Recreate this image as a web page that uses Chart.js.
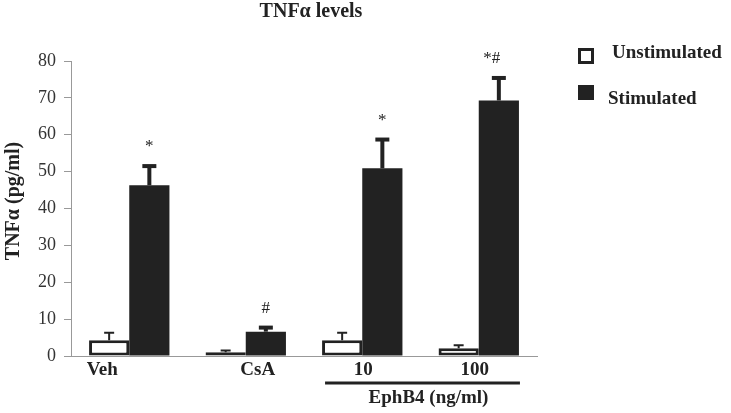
<!DOCTYPE html>
<html>
<head>
<meta charset="utf-8">
<script src="https://cdn.jsdelivr.net/npm/chart.js@4.4.0/dist/chart.umd.min.js"></script>
<style>
  body { margin: 0; background: #fff; }
</style>
</head>
<body>
<canvas id="tnf" width="731" height="413"></canvas>
<script>
// data
var groups = ['Veh', 'CsA', '10', '100'];
var unstimulated = [4.3, 1.0, 4.3, 2.1];
var unstimErr = [2.0, 0.5, 2.0, 0.8];
var stimulated = [46.3, 6.6, 50.9, 69.3];
var stimErr = [5.2, 1.1, 7.8, 6.1];
var marks = ['*', '#', '*', '*#'];
var yTicks = [0, 10, 20, 30, 40, 50, 60, 70, 80];

var serif = '"Liberation Serif", "Times New Roman", serif';
var ink = '#222';
// the original labels sit a little off their group centres
var labelShift = [-27, 12, 1, -4];

// error bars, significance marks, labels, legend and the EphB4 bracket
var extras = {
  id: 'extras',
  afterDatasetsDraw: function(chart) {
    var ctx = chart.ctx;
    var y = chart.scales.y, x = chart.scales.x;
    var m0 = chart.getDatasetMeta(0), m1 = chart.getDatasetMeta(1);
    ctx.save();
    ctx.strokeStyle = ink;
    ctx.fillStyle = ink;

    for (var i = 0; i < groups.length; i++) {
      // unstimulated error bar (thin)
      var b = m0.data[i];
      var top = y.getPixelForValue(unstimulated[i]);
      var cap = y.getPixelForValue(unstimulated[i] + unstimErr[i]);
      ctx.lineWidth = 2;
      ctx.beginPath();
      ctx.moveTo(b.x, top); ctx.lineTo(b.x, cap);
      ctx.moveTo(b.x - 5, cap); ctx.lineTo(b.x + 5, cap);
      ctx.stroke();

      // stimulated error bar (thick)
      b = m1.data[i];
      top = y.getPixelForValue(stimulated[i]);
      cap = y.getPixelForValue(stimulated[i] + stimErr[i]);
      ctx.lineWidth = 4;
      ctx.beginPath();
      ctx.moveTo(b.x, top); ctx.lineTo(b.x, cap);
      ctx.stroke();
      ctx.fillRect(b.x - 7, cap - 2, 14, 4);

      ctx.font = '17px ' + serif;
      ctx.textAlign = 'center';
      ctx.textBaseline = 'alphabetic';
      var off = marks[i].length > 1 ? -7 : 0;
      ctx.fillText(marks[i], b.x + off, cap - 15);

      // category label
      ctx.font = 'bold 19px ' + serif;
      ctx.textBaseline = 'middle';
      ctx.fillText(groups[i], x.getPixelForValue(i) + labelShift[i], 370);
    }

    // title
    ctx.font = 'bold 20px ' + serif;
    ctx.textAlign = 'center';
    ctx.textBaseline = 'middle';
    ctx.fillText('TNF\u03b1 levels', 311, 12);

    // y title
    ctx.save();
    ctx.translate(14, 201);
    ctx.rotate(-Math.PI / 2);
    ctx.fillText('TNF\u03b1 (pg/ml)', 0, 0);
    ctx.restore();

    // bracket under the EphB4 doses
    ctx.font = 'bold 19px ' + serif;
    var left = m0.data[2].x - m0.data[2].width / 2 + 3;
    var right = m1.data[3].x + m1.data[3].width / 2 + 1;
    ctx.lineWidth = 3;
    ctx.beginPath();
    ctx.moveTo(left, 383); ctx.lineTo(right, 383);
    ctx.stroke();
    ctx.fillText('EphB4 (ng/ml)', (left + right) / 2 + 6, 398);

    // legend
    ctx.lineWidth = 3;
    ctx.strokeRect(579.5, 49.5, 13, 13);
    ctx.fillRect(578, 85, 16, 15);
    ctx.textAlign = 'left';
    ctx.fillText('Unstimulated', 612, 53);
    ctx.fillText('Stimulated', 608, 99);
    ctx.restore();
  }
};

new Chart(document.getElementById('tnf').getContext('2d'), {
  type: 'bar',
  data: {
    labels: groups,
    datasets: [{
      label: 'Unstimulated',
      data: unstimulated,
      backgroundColor: '#fff',
      borderColor: ink,
      borderWidth: 3,
      borderSkipped: false
    }, {
      label: 'Stimulated',
      data: stimulated,
      backgroundColor: ink,
      borderWidth: 0
    }]
  },
  options: {
    responsive: false,
    animation: false,
    events: [],
    layout: { padding: { top: 61, right: 194, bottom: 0, left: 0 } },
    datasets: { bar: { categoryPercentage: 0.69, barPercentage: 1.0 } },
    plugins: { legend: { display: false }, title: { display: false }, tooltip: { enabled: false } },
    scales: {
      x: {
        grid: { display: false },
        border: { color: '#999', width: 1 },
        ticks: { display: false },
        afterFit: function(s) { s.height = 57; }
      },
      y: {
        min: 0, max: 80,
        afterBuildTicks: function(s) { s.ticks = yTicks.map(function(v) { return { value: v }; }); },
        grid: { drawOnChartArea: false, drawTicks: true, tickLength: 7, color: '#999' },
        border: { color: '#999', width: 1 },
        ticks: { color: '#333', padding: 8, font: { family: serif, size: 18 } },
        afterFit: function(s) { s.width = 71; }
      }
    }
  },
  plugins: [extras]
});
</script>
</body>
</html>
